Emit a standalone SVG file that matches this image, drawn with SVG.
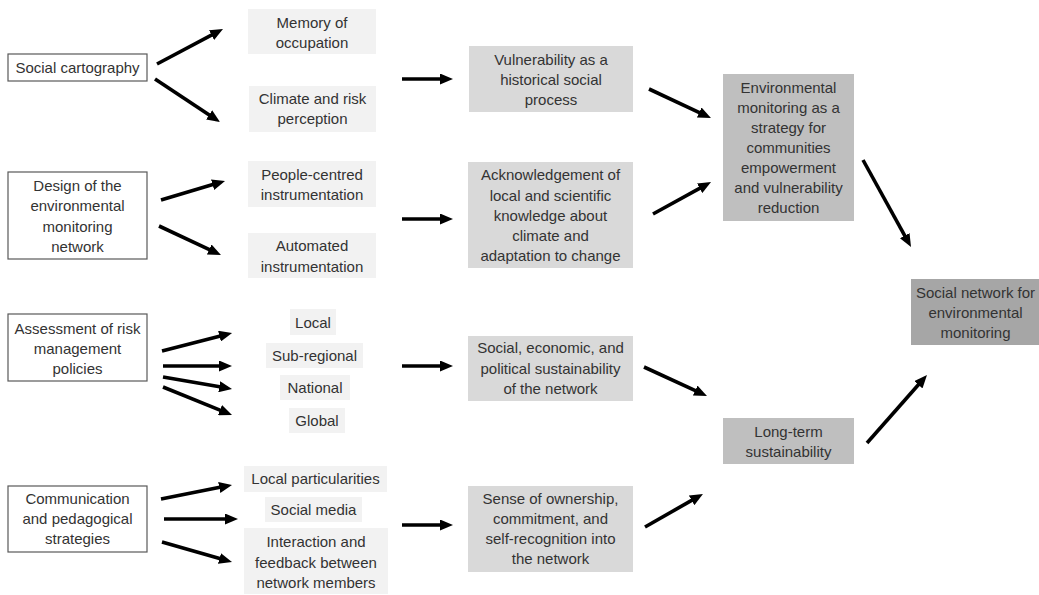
<svg xmlns="http://www.w3.org/2000/svg" width="1039" height="595" viewBox="0 0 1039 595">
<defs>
<style>
text{font-family:"Liberation Sans",Arial,sans-serif;font-size:15px;fill:#333333;text-anchor:middle}
.src{fill:#ffffff;stroke:#595959;stroke-width:1.2}
.l1{fill:#f2f2f2}
.l2{fill:#d9d9d9}
.l3{fill:#bfbfbf}
.l4{fill:#a6a6a6}
.arr{stroke:#000000;stroke-width:3.6;fill:none;marker-end:url(#ah)}
</style>
<marker id="ah" markerUnits="userSpaceOnUse" markerWidth="13" markerHeight="11" refX="2" refY="5.5" orient="auto" viewBox="0 0 13 11">
<path d="M0,0 L13,5.5 L0,11 z" fill="#000000"/>
</marker>
</defs>
<rect width="1039" height="595" fill="#ffffff"/>

<g id="social-cartography">
<rect class="src" x="8" y="54" width="139" height="27"/>
<text x="77.5" y="73">Social cartography</text>
</g>
<g id="design">
<rect class="src" x="8" y="172" width="139" height="87"/>
<text x="77.5" y="190.5">Design of the</text>
<text x="77.5" y="211">environmental</text>
<text x="77.5" y="231.5">monitoring</text>
<text x="77.5" y="252">network</text>
</g>
<g id="assessment">
<rect class="src" x="8" y="314" width="139" height="67"/>
<text x="77.5" y="334">Assessment of risk</text>
<text x="77.5" y="354">management</text>
<text x="77.5" y="374">policies</text>
</g>
<g id="communication">
<rect class="src" x="8" y="486" width="139" height="66"/>
<text x="77.5" y="504">Communication</text>
<text x="77.5" y="524">and pedagogical</text>
<text x="77.5" y="544">strategies</text>
</g>

<g id="memory">
<rect class="l1" x="248" y="9" width="128" height="45"/>
<text x="312" y="28">Memory of</text>
<text x="312" y="47.5">occupation</text>
</g>
<g id="climate">
<rect class="l1" x="249" y="86" width="127" height="46"/>
<text x="312.5" y="104">Climate and risk</text>
<text x="312.5" y="124">perception</text>
</g>
<g id="people">
<rect class="l1" x="248" y="161" width="128" height="46"/>
<text x="312" y="180">People-centred</text>
<text x="312" y="199.5">instrumentation</text>
</g>
<g id="automated">
<rect class="l1" x="248" y="233" width="128" height="45"/>
<text x="312" y="251">Automated</text>
<text x="312" y="272">instrumentation</text>
</g>
<g id="local">
<rect class="l1" x="290" y="309" width="46" height="26"/>
<text x="313" y="328">Local</text>
</g>
<g id="subregional">
<rect class="l1" x="266" y="343" width="97" height="25"/>
<text x="314.5" y="360.5">Sub-regional</text>
</g>
<g id="national">
<rect class="l1" x="280" y="375" width="70" height="25"/>
<text x="315" y="393">National</text>
</g>
<g id="global">
<rect class="l1" x="289" y="408" width="56" height="25"/>
<text x="317" y="425.5">Global</text>
</g>
<g id="local-particularities">
<rect class="l1" x="244" y="466" width="143" height="26"/>
<text x="315.5" y="484">Local particularities</text>
</g>
<g id="social-media">
<rect class="l1" x="265" y="497" width="97" height="25"/>
<text x="313.5" y="514.5">Social media</text>
</g>
<g id="interaction">
<rect class="l1" x="244" y="528" width="144" height="66"/>
<text x="316" y="547">Interaction and</text>
<text x="316" y="567.5">feedback between</text>
<text x="316" y="588">network members</text>
</g>

<g id="vulnerability">
<rect class="l2" x="469" y="46" width="164" height="66"/>
<text x="551" y="65">Vulnerability as a</text>
<text x="551" y="85">historical social</text>
<text x="551" y="105">process</text>
</g>
<g id="acknowledgement">
<rect class="l2" x="468" y="162" width="165" height="106"/>
<text x="550.5" y="180">Acknowledgement of</text>
<text x="550.5" y="200.5">local and scientific</text>
<text x="550.5" y="221">knowledge about</text>
<text x="550.5" y="241">climate and</text>
<text x="550.5" y="261">adaptation to change</text>
</g>
<g id="sustainability-network">
<rect class="l2" x="468" y="336" width="165" height="65"/>
<text x="550.5" y="353">Social, economic, and</text>
<text x="550.5" y="374">political sustainability</text>
<text x="550.5" y="394">of the network</text>
</g>
<g id="ownership">
<rect class="l2" x="468" y="486" width="165" height="86"/>
<text x="550.5" y="504">Sense of ownership,</text>
<text x="550.5" y="524">commitment, and</text>
<text x="550.5" y="544">self-recognition into</text>
<text x="550.5" y="563.5">the network</text>
</g>

<g id="env-monitoring">
<rect class="l3" x="723" y="74" width="131" height="147"/>
<text x="788.5" y="93">Environmental</text>
<text x="788.5" y="113">monitoring as a</text>
<text x="788.5" y="133">strategy for</text>
<text x="788.5" y="153">communities</text>
<text x="788.5" y="173">empowerment</text>
<text x="788.5" y="193">and vulnerability</text>
<text x="788.5" y="213">reduction</text>
</g>
<g id="long-term">
<rect class="l3" x="723" y="418" width="131" height="46"/>
<text x="788.5" y="437">Long-term</text>
<text x="788.5" y="457">sustainability</text>
</g>
<g id="social-network">
<rect class="l4" x="911" y="279" width="128" height="66"/>
<text x="975.5" y="298">Social network for</text>
<text x="975.5" y="318">environmental</text>
<text x="975.5" y="338">monitoring</text>
</g>

<g id="connectors">
<path class="arr" d="M157,64 L213.3,34.2"/>
<path class="arr" d="M155,79 L210.8,115.9"/>
<path class="arr" d="M161,200 L214.5,184.1"/>
<path class="arr" d="M159,226 L211,250.3"/>
<path class="arr" d="M162,351 L221.4,335.7"/>
<path class="arr" d="M163,366 L221,366"/>
<path class="arr" d="M163,377 L221.2,387.1"/>
<path class="arr" d="M163,387 L221.8,410.9"/>
<path class="arr" d="M161,499 L221.2,487.1"/>
<path class="arr" d="M164,519 L227,519"/>
<path class="arr" d="M162,542 L221.4,559"/>
<path class="arr" d="M402,79 L442,79"/>
<path class="arr" d="M402,219 L442,219"/>
<path class="arr" d="M402,366 L442,366"/>
<path class="arr" d="M402,525 L442,525"/>
<path class="arr" d="M649,89 L701,113.3"/>
<path class="arr" d="M653,214 L701.4,187.3"/>
<path class="arr" d="M644,367 L697,391.4"/>
<path class="arr" d="M645,527 L693.4,499.4"/>
<path class="arr" d="M863,160 L905.7,237.4"/>
<path class="arr" d="M867,443 L919.7,383.3"/>
</g>
</svg>
